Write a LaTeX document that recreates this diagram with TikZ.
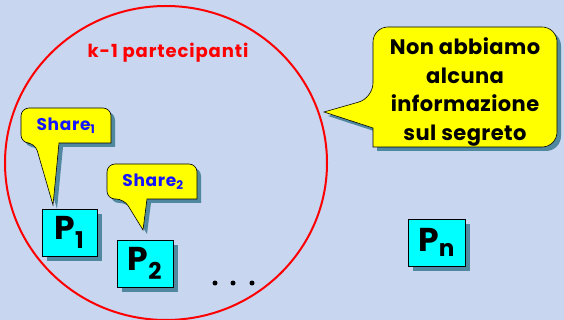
\documentclass[tikz,border=0pt]{standalone}
\usepackage{fontspec}
\setmainfont{Poppins}
\usetikzlibrary{shadows}
\definecolor{bg}{RGB}{200,214,240}
\definecolor{shadowc}{RGB}{80,136,160}
\definecolor{boxc}{RGB}{0,255,255}
\definecolor{yel}{RGB}{255,255,0}
\definecolor{sharec}{RGB}{20,20,255}
\newcommand\bigcallpath{(465,27) [rounded corners=15pt] -- (373,27) -- (373,98) [sharp corners] -- (324,112) -- (373,128) -- (373,147) [rounded corners=15pt] -- (557,147) -- (557,27) -- cycle}
\newcommand\shareonepath{(66,108) [rounded corners=8pt] -- (21,108) -- (21,143) -- (35,143) [sharp corners] -- (53,205) -- (59,143) -- (111,143) [rounded corners=8pt] -- (111,108) -- cycle}
\newcommand\sharetwopath{(152,164) [rounded corners=8pt] -- (107,164) -- (107,199) -- (124,199) [sharp corners] -- (143,230) -- (147,199) -- (197,199) [rounded corners=8pt] -- (197,164) -- cycle}
\begin{document}
\begin{tikzpicture}[x=1pt,y=-1pt,
  pbox/.style={draw=black, fill=boxc, minimum width=56pt, minimum height=47pt, inner sep=0pt, line width=0.6pt,
    font=\bfseries\fontsize{33}{33}\selectfont,
    drop shadow={shadow xshift=5pt, shadow yshift=-5pt, fill=shadowc, opacity=1}},
  callout/.style={draw=black, fill=yel, line width=0.6pt},
  calloutshadow/.style={fill=shadowc, shift={(4,4)}},
  sharetext/.style={text=sharec, font=\bfseries\fontsize{17}{17}\selectfont\addfontfeatures{LetterSpace=4}, inner sep=0pt},
  dot/.style={fill=black}]
\useasboundingbox (0,0) rectangle (564,320);
\fill[bg] (0,0) rectangle (564,320);
\begin{scope}
  \clip (0,0) rectangle (564,320);
  \draw[red, line width=2pt] (166,163) ellipse [x radius=161pt, y radius=157pt];
\end{scope}
\node[text=red, font=\bfseries\fontsize{18}{18}\selectfont\addfontfeatures{LetterSpace=5}] (klabel) at (168,53) {k-1 partecipanti};
% big callout
\fill[calloutshadow] \bigcallpath;
\draw[callout] \bigcallpath;
\node[align=center, font=\bfseries\fontsize{21}{28.7}\selectfont\addfontfeatures{LetterSpace=2}] (info) at (465,92) {Non abbiamo\\alcuna\\informazione\\sul segreto};
% share callouts
\fill[calloutshadow] \shareonepath;
\draw[callout] \shareonepath;
\node[sharetext] (s1) at (66,126) {Share\textsubscript{1}};
\fill[calloutshadow] \sharetwopath;
\draw[callout] \sharetwopath;
\node[sharetext] (s2) at (153,182) {Share\textsubscript{2}};
% boxes
\node[pbox, minimum width=55pt] (p1) at (69.5,232.5) {P\textsubscript{1}};
\node[pbox] (p2) at (145,263.5) {P\textsubscript{2}};
\node[pbox, minimum width=57pt] (pn) at (436.5,242.5) {P\textsubscript{n}};
% dots
\fill[dot] (215,283) circle (2.5pt);
\fill[dot] (233,283) circle (2.5pt);
\fill[dot] (252,283) circle (2.5pt);
\end{tikzpicture}
\end{document}
